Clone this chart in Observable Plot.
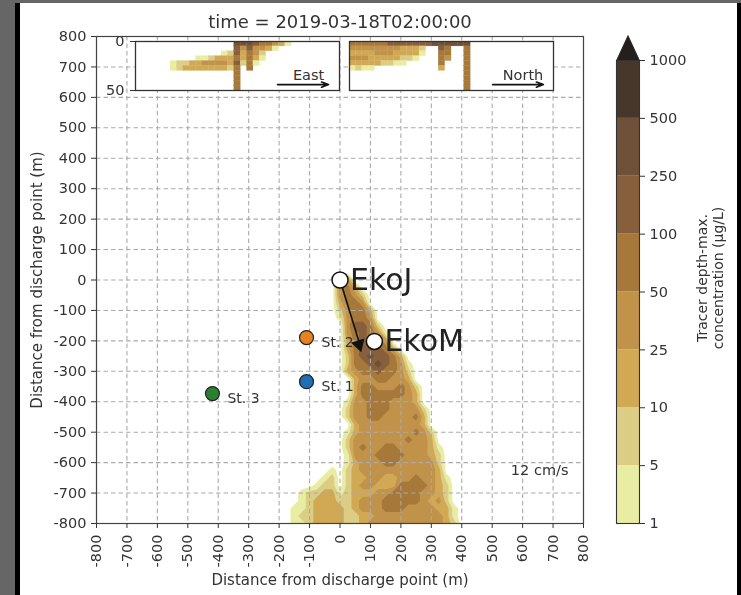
<!DOCTYPE html>
<html><head><meta charset="utf-8">
<script src="https://cdn.jsdelivr.net/npm/d3@7"></script>
<script src="https://cdn.jsdelivr.net/npm/@observablehq/plot@0.6"></script>
<style>
html,body{margin:0;padding:0;background:#666;overflow:hidden}
#page{position:relative;width:741px;height:595px;background:#666;overflow:hidden}
.bar{position:absolute}
</style></head><body>
<div id="page">
<div class="bar" style="left:15px;top:3px;width:5px;height:592px;background:#000"></div>
<div class="bar" style="left:737px;top:3px;width:4px;height:592px;background:#000"></div>
<div class="bar" style="left:20px;top:3px;width:717px;height:592px;background:#fff"></div>
</div>
<script>
const W = 741, H = 595, FONT = "'DejaVu Sans', sans-serif";
const axisTicks = d3.range(-800, 801, 100);
const axisTitle = "Distance from discharge point (m)";

// band colours, 1–5 ... 500–1000 µg/L, then the over-range cap
const bandColors = ["#e8eda3","#dccd85","#d1a954","#c0924a","#a6783a","#875f3c","#6f5038","#47362a"];
const capColor = "#231f1c";
const cbarLabels = ["1","5","10","25","50","100","250","500","1000"];

// plume band index (0 = below 1 µg/L), rows every 25 m from y=25 down to y=-800, columns every 25 m from x=-200
const plumeRows = [
"",
"0000000044",
"00000000453",
"000000004542",
"000000003554",
"0000000024553",
"0000000014554",
"00000000046652",
"000000000456541",
"000000000356554",
"0000000003566653",
"00000000025676653",
"000000000255676541",
"000000000345565542",
"000000000034455443",
"0000000000355444542",
"0000000000355555543",
"0000000001445554443",
"00000000024455544442",
"00000000024455444453",
"00000000003444444443",
"000000000134444444542",
"000000000244444445443",
"0000000002454455444431",
"0000000001444555544432",
"0000000001344455444442",
"0000000102344444444443",
"00000012023344334454431",
"00000122023443335555432",
"00012233123334455554432",
"00012333223444555554342",
"001123333234445554444331",
"001223333223344444444431",
"001123333223444444444432"
];

// depth sections: rows per 5 m of depth, columns per 50 m
const eastRows = [
"0000000000000000777655431",
"00000000000000006464431",
"000000000000001263542",
"000000000011233353531",
"00000012233444436251",
"0000001233333332505",
"00000000000000005",
"00000000000000005",
"00000000000000005",
"00000000000000005"
];
const northRows = [
"5555556666666777777",
"4444444433320065005",
"3333444333310055005",
"4443333322100054005",
"3333322110000050005",
"1211000000000030005",
"0000000000000000005",
"0000000000000000005",
"0000000000000000005",
"0000000000000000005"
];

const moorings = [
  {name:"St. 2", x:-110, y:-189, color:"#e8821e"},
  {name:"St. 1", x:-110, y:-334, color:"#1f6fb4"},
  {name:"St. 3", x:-419, y:-373, color:"#2a8030"}
];
const sources = [{name:"EkoJ", x:0, y:0},{name:"EkoM", x:113, y:-202}];
const flowArrow = [{x1:0, y1:0, x2:64, y2:-208}];
const flowHead = [{x:62, y:-212, angle:162.6}];
const speedLabel = [{x:656, y:-627, text:"12 cm/s"}];

const plumeValues = plumeRows.flatMap(r => Array.from(r.padEnd(25,"0"), Number));
const toCells = (rows, x0) => rows.flatMap((r,b) => Array.from(r, (c,i) => ({
  level:+c, x1:x0+50*i, x2:x0+50*(i+1), y1:b*5, y2:(b+1)*5
}))).filter(d => d.level>0);

const page = document.getElementById("page");
const base = {width:W, height:H, style:{position:"absolute",left:"0px",top:"0px",background:"transparent",fontFamily:FONT,color:"#333",fontSize:"14.5px",overflow:"visible",filter:"blur(0.45px)"}};
const cfg = {headLength:7, headAngle:40, strokeWidth:1.6, stroke:"#111", insetEnd:0, insetStart:0};

// main map
page.appendChild(Plot.plot({...base,
  marginLeft:96, marginRight:158, marginTop:36, marginBottom:72,
  x:{domain:[-800,800]}, y:{domain:[-800,800]},
  color:{type:"threshold", domain:[1,2,3,4,5,6,7], range:bandColors},
  marks:[
    Plot.contour(plumeValues,{value:Plot.identity, fill:"value", width:25, height:34,
      x1:-212.5, x2:412.5, y1:37.5, y2:-812.5, thresholds:[0.5,1.5,2.5,3.5,4.5,5.5,6.5], clip:true}),
    Plot.gridX(axisTicks,{stroke:"#aaa", strokeOpacity:1, strokeDasharray:"4.5,3", strokeWidth:1.1}),
    Plot.gridY(axisTicks,{stroke:"#aaa", strokeOpacity:1, strokeDasharray:"4.5,3", strokeWidth:1.1}),
    Plot.frame({stroke:"#444", strokeWidth:1.2}),
    Plot.axisX({ticks:axisTicks, tickFormat:String, tickRotate:-90, tickSize:5, tickPadding:6, fontSize:14.5, label:null}),
    Plot.axisY({ticks:axisTicks, tickFormat:String, tickSize:5, tickPadding:5, fontSize:14.5, label:null}),
    Plot.text([axisTitle],{frameAnchor:"bottom",dy:57,lineAnchor:"middle",fontSize:15,fill:"#333"}),
    Plot.text([axisTitle],{frameAnchor:"left",textAnchor:"middle",dx:-59,rotate:-90,fontSize:15,fill:"#333"}),
    Plot.link(flowArrow,{x1:"x1",y1:"y1",x2:"x2",y2:"y2",stroke:"#111",strokeWidth:1.6}),
    Plot.dot(flowHead,{x:"x",y:"y",symbol:"triangle",r:5.2,rotate:"angle",fill:"#111",stroke:"none"}),
    Plot.dot(moorings,{x:"x",y:"y",r:7,fill:"color",stroke:"#222",strokeWidth:1.2}),
    Plot.text(moorings,{x:"x",y:"y",text:"name",dx:15,dy:5,textAnchor:"start",fontSize:14,fill:"#333"}),
    Plot.dot(sources,{x:"x",y:"y",r:8,fill:"white",stroke:"#111",strokeWidth:1.5}),
    Plot.text(sources,{x:"x",y:"y",text:"name",dx:10,textAnchor:"start",fontSize:30,fill:"#222"}),
    Plot.text(speedLabel,{x:"x",y:"y",text:"text",fontSize:14.5,fill:"#333"}),
    Plot.text(["time = 2019-03-18T02:00:00"],{frameAnchor:"top",dy:-14,lineAnchor:"middle",fontSize:18,fill:"#333"})
  ]
}));

// section marks shared by the two insets
const sectionMarks = (rows, x0, arrow, label) => [
  Plot.frame({fill:"white"}),
  Plot.rect(toCells(rows,x0),{x1:"x1",x2:"x2",y1:"y1",y2:"y2",fill:"level",stroke:"level",strokeWidth:0.3,clip:true}),
  Plot.frame({stroke:"#333",strokeWidth:1.3}),
  Plot.arrow([arrow],{x1:"x1",y1:"y",x2:"x2",y2:"y",...cfg}),
  Plot.text([label],{x:"x",y:"y",text:"text",fontSize:14.5,fill:"#333"})
];
const colorBands = {type:"ordinal", domain:[1,2,3,4,5,6,7,8], range:bandColors};

page.appendChild(Plot.plot({...base,
  marginLeft:135, marginRight:402, marginTop:41, marginBottom:505,
  x:{domain:[-800,800], axis:null}, y:{domain:[0,50], reverse:true, axis:null},
  color:colorBands,
  marks:[
    ...sectionMarks(eastRows,-825,{x1:314,x2:714,y:44},{x:557,y:35,text:"East"}),
    Plot.axisY({ticks:[0,50], tickSize:5, tickPadding:6, fontSize:14.5, label:null})
  ]
}));
page.appendChild(Plot.plot({...base,
  marginLeft:349, marginRight:188, marginTop:41, marginBottom:505,
  x:{domain:[-975,625], axis:null}, y:{domain:[0,50], reverse:true, axis:null},
  color:colorBands,
  marks:sectionMarks(northRows,-975,{x1:147,x2:546,y:44},{x:386,y:35,text:"North"})
}));

// colour bar
const cbarBands = bandColors.map((c,i) => ({y1:i, y2:i+1, c}));
const capLine = [{x:0,y:8},{x:0.5,y:8.43},{x:1,y:8},{x:0,y:8}];
page.appendChild(Plot.plot({...base,
  marginLeft:616, marginRight:102, marginTop:60, marginBottom:72,
  x:{domain:[0,1], axis:null}, y:{domain:[0,8], axis:null},
  marks:[
    Plot.rectY(cbarBands,{x1:0,x2:1,y1:"y1",y2:"y2",fill:d=>d.c}),
    Plot.line(capLine,{x:"x",y:"y",fill:capColor,stroke:capColor,strokeWidth:0.8}),
    Plot.frame({stroke:"#333",strokeWidth:1.1}),
    Plot.axisY({anchor:"right", ticks:d3.range(0,9), tickFormat:i=>cbarLabels[i], tickSize:5, tickPadding:5, fontSize:14.5, label:null}),
    Plot.text(["Tracer depth-max.\nconcentration (μg/L)"],{frameAnchor:"right",textAnchor:"middle",rotate:-90,dx:70,dy:-14,lineHeight:1.15,fontSize:14,fill:"#333"})
  ]
}));
</script>
</body></html>
